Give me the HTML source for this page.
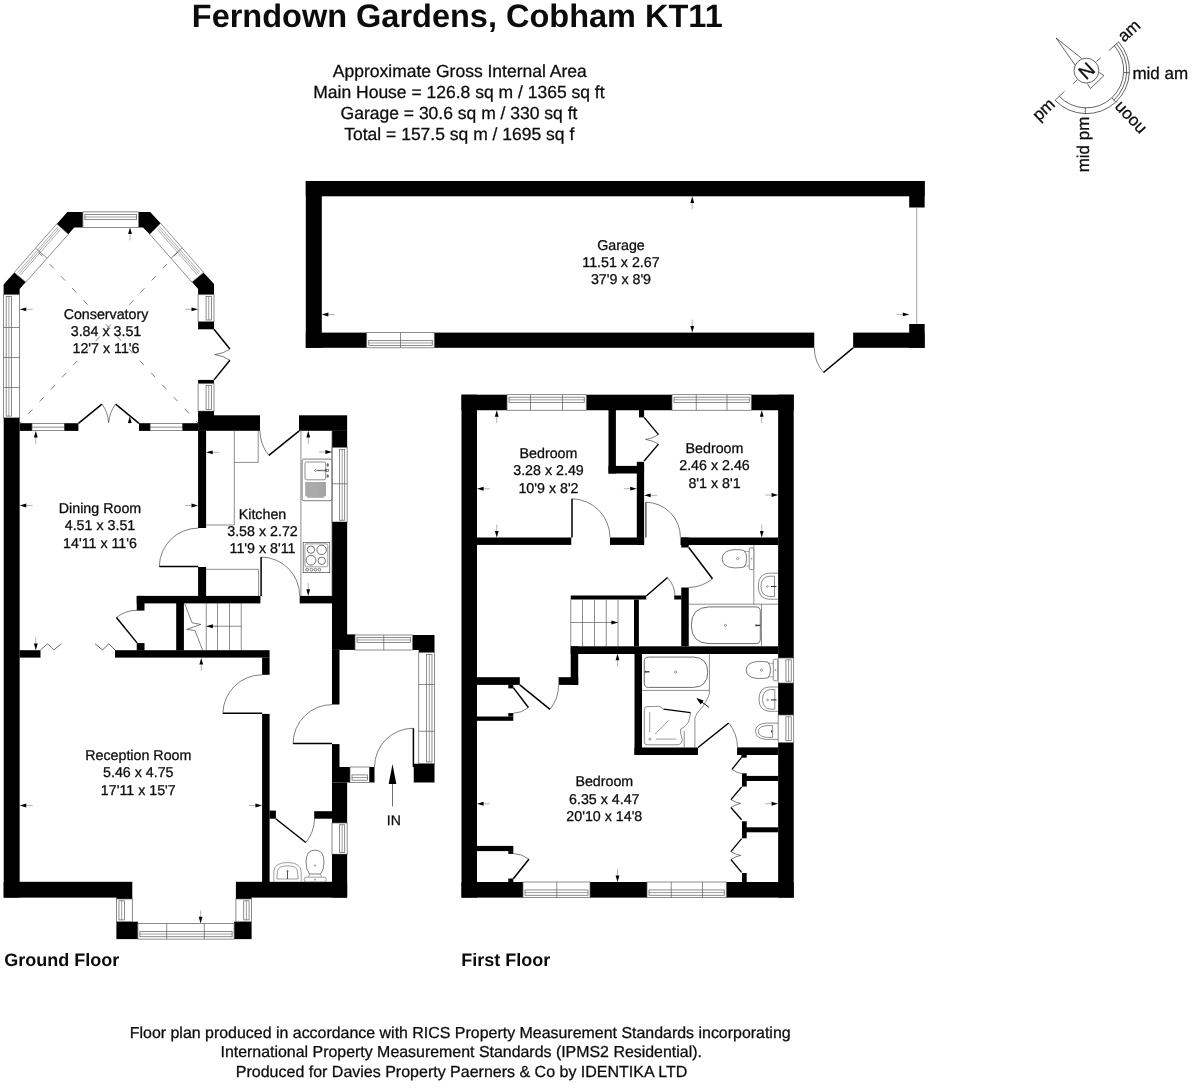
<!DOCTYPE html>
<html>
<head>
<meta charset="utf-8">
<title>Ferndown Gardens, Cobham KT11 - Floor plan</title>
<style>
html,body{margin:0;padding:0;background:#fff;}
body{width:1192px;height:1088px;overflow:hidden;font-family:"Liberation Sans",sans-serif;}
svg{display:block;will-change:transform;filter:grayscale(1);}
svg text{font-family:"Liberation Sans",sans-serif;fill:#0c0c0c;text-rendering:geometricPrecision;}
svg text.r{stroke:#0c0c0c;stroke-width:0.28px;}
</style>
</head>
<body>
<svg width="1192" height="1088" viewBox="0 0 1192 1088">
<rect x="0" y="0" width="1192" height="1088" fill="#fff"/>
<text x="191.8" y="27" font-size="32.5" text-anchor="start" font-weight="bold">Ferndown Gardens, Cobham KT11</text>
<text class="r" x="459.8" y="76.6" font-size="17.5" text-anchor="middle" font-weight="normal">Approximate Gross Internal Area</text>
<text class="r" x="458.9" y="97.8" font-size="17.5" text-anchor="middle" font-weight="normal">Main House = 126.8 sq m / 1365 sq ft</text>
<text class="r" x="459" y="119" font-size="17.5" text-anchor="middle" font-weight="normal">Garage = 30.6 sq m / 330 sq ft</text>
<text class="r" x="459.3" y="140" font-size="17.5" text-anchor="middle" font-weight="normal">Total = 157.5 sq m / 1695 sq f</text>
<text x="4.2" y="965.8" font-size="18" text-anchor="start" font-weight="bold">Ground Floor</text>
<text x="461.35" y="965.8" font-size="18" text-anchor="start" font-weight="bold">First Floor</text>
<text class="r" x="460.2" y="1038.3" font-size="15.95" text-anchor="middle" font-weight="normal">Floor plan produced in accordance with RICS Property Measurement Standards incorporating</text>
<text class="r" x="461.2" y="1057.4" font-size="15.93" text-anchor="middle" font-weight="normal">International Property Measurement Standards (IPMS2 Residential).</text>
<text class="r" x="461.5" y="1077.4" font-size="16" text-anchor="middle" font-weight="normal">Produced for Davies Property Paerners &amp; Co by IDENTIKA LTD</text>
<rect x="305.8" y="181" width="618.85" height="15.3" fill="#000"/>
<rect x="305.8" y="181" width="16" height="166.8" fill="#000"/>
<rect x="305.8" y="332.6" width="60.95" height="15.2" fill="#000"/>
<rect x="434.25" y="332.6" width="380" height="15.2" fill="#000"/>
<rect x="853.15" y="332.6" width="71.5" height="15.2" fill="#000"/>
<rect x="909.2" y="181" width="15.45" height="26.5" fill="#000"/>
<rect x="909.2" y="324" width="15.45" height="23.8" fill="#000"/>
<line x1="916.7" y1="207.5" x2="916.7" y2="324" stroke="#777" stroke-width="0.7"/>
<rect x="366.75" y="332.6" width="67.5" height="15.2" fill="#fff" stroke="#5c5c5c" stroke-width="0.7"/>
<rect x="368.75" y="340.35" width="63.5" height="5.17" fill="none" stroke="#5c5c5c" stroke-width="0.7"/>
<line x1="368.75" y1="342.94" x2="432.25" y2="342.94" stroke="#5c5c5c" stroke-width="0.6"/>
<line x1="400.5" y1="332.6" x2="400.5" y2="347.8" stroke="#5c5c5c" stroke-width="0.7"/>
<path d="M823.5 372.5 A38.55 38.55 0 0 1 814.25 347.8" fill="none" stroke="#2a2a2a" stroke-width="0.6"/>
<line x1="853.1" y1="347.8" x2="823.5" y2="372.5" stroke="#000" stroke-width="1.5"/>
<line x1="328.4" y1="314.5" x2="334.8" y2="314.5" stroke="#777" stroke-width="0.55"/>
<polygon points="321.8,314.5 328.4,312.6 328.4,316.4" fill="#000"/>
<line x1="902.8" y1="314.4" x2="896.4" y2="314.4" stroke="#777" stroke-width="0.55"/>
<polygon points="909.4,314.4 902.8,316.3 902.8,312.5" fill="#000"/>
<line x1="692.25" y1="202.9" x2="692.25" y2="209.3" stroke="#777" stroke-width="0.55"/>
<polygon points="692.25,196.3 694.15,202.9 690.35,202.9" fill="#000"/>
<line x1="692.25" y1="326" x2="692.25" y2="319.6" stroke="#777" stroke-width="0.55"/>
<polygon points="692.25,332.6 690.35,326 694.15,326" fill="#000"/>
<text class="r" x="621" y="249.5" font-size="14.25" text-anchor="middle" font-weight="normal">Garage</text>
<text class="r" x="621" y="266.8" font-size="14.25" text-anchor="middle" font-weight="normal">11.51 x 2.67</text>
<text class="r" x="621" y="284.1" font-size="14.25" text-anchor="middle" font-weight="normal">37'9 x 8'9</text>
<g transform="translate(1086.4 70.6)">
<path d="M32.18 -28.67 A43.1 43.1 0 0 1 -31.26 29.67" fill="none" stroke="#222" stroke-width="0.7"/>
<path d="M27.92 -24.88 A37.4 37.4 0 0 1 -27.13 25.74" fill="none" stroke="#222" stroke-width="0.7"/>
<path d="M30.09 -26.81 A40.3 40.3 0 0 1 27.48 29.47" fill="none" stroke="#222" stroke-width="0.7"/>
<line x1="22.4" y1="-19.96" x2="32.4" y2="-28.87" stroke="#222" stroke-width="0.7"/>
<line x1="-21.76" y1="20.65" x2="-31.48" y2="29.87" stroke="#222" stroke-width="0.7"/>
<line x1="25.51" y1="27.35" x2="29.6" y2="31.74" stroke="#222" stroke-width="0.7"/>
<line x1="37.35" y1="1.96" x2="43.34" y2="2.27" stroke="#222" stroke-width="0.7"/>
<line x1="-1.03" y1="36.99" x2="-1.21" y2="43.38" stroke="#222" stroke-width="0.7"/>
<circle cx="0" cy="0" r="12.4" fill="none" stroke="#222" stroke-width="0.7"/>
<path d="M-4.6 -12.1 L-30.3 -32.6 L-11 -5.05" fill="none" stroke="#222" stroke-width="0.7"/>
<line x1="10.1" y1="-9.2" x2="14.2" y2="-12.7" stroke="#222" stroke-width="0.7"/>
<line x1="-9.2" y1="9.2" x2="-13.3" y2="13.1" stroke="#222" stroke-width="0.7"/>
<path d="M12.9 1.8 L17.5 5.05 L4.1 17.9 L0.9 12.9" fill="none" stroke="#222" stroke-width="0.7"/>
<text transform="rotate(-43)" x="0" y="6.8" font-size="19.5" text-anchor="middle" stroke="#111" stroke-width="0.35">N</text>
<text class="r" transform="rotate(-42)" x="46.5" y="4.4" font-size="17" text-anchor="start">am</text>
<text class="r" transform="rotate(-43.5)" x="-46" y="4.4" font-size="17" text-anchor="end">pm</text>
<text class="r" transform="rotate(227)" x="-45.5" y="4.4" font-size="17" text-anchor="end">noon</text>
<text class="r" transform="rotate(-90)" x="-46" y="2.1" font-size="17" text-anchor="end">mid pm</text>
<text class="r" x="46" y="7.9" font-size="17" text-anchor="start">mid am</text>
</g>
<polygon points="67.4,211.9 82.9,211.9 82.9,227.4 74.3,227.4 68.3,234.3 56.8,223.9" fill="#000"/>
<polygon points="138.6,211.9 150.2,211.9 160.6,223.2 149.8,234.3 143,227.4 138.6,227.4" fill="#000"/>
<polygon points="14.3,272.4 25.8,282.1 19.65,289 19.65,294.7 3.6,294.7 3.6,284.4" fill="#000"/>
<polygon points="203.5,272.4 214,283.9 214,294.7 198.1,294.7 198.1,289 192,282.1" fill="#000"/>
<rect x="82.9" y="211.9" width="55.7" height="15.5" fill="#fff" stroke="#5c5c5c" stroke-width="0.7"/>
<rect x="84.9" y="214.38" width="51.7" height="5.27" fill="none" stroke="#5c5c5c" stroke-width="0.7"/>
<line x1="84.9" y1="217.01" x2="136.6" y2="217.01" stroke="#5c5c5c" stroke-width="0.6"/>
<polygon points="56.8,223.9 68.3,234.3 25.8,282.1 14.3,272.4" fill="#fff" stroke="#5c5c5c" stroke-width="0.7"/>
<line x1="57.59" y1="227.22" x2="17.64" y2="272.69" stroke="#5c5c5c" stroke-width="0.5"/>
<line x1="58.98" y1="228.47" x2="19.02" y2="273.86" stroke="#5c5c5c" stroke-width="0.5"/>
<line x1="60.35" y1="229.71" x2="20.41" y2="275.03" stroke="#5c5c5c" stroke-width="0.5"/>
<line x1="35.55" y1="248.15" x2="47.05" y2="258.2" stroke="#5c5c5c" stroke-width="0.7"/>
<polygon points="160.6,223.2 149.8,234.3 192,282.1 203.5,272.4" fill="#fff" stroke="#5c5c5c" stroke-width="0.7"/>
<line x1="159.94" y1="226.67" x2="200.15" y2="272.68" stroke="#5c5c5c" stroke-width="0.5"/>
<line x1="158.64" y1="227.99" x2="198.77" y2="273.85" stroke="#5c5c5c" stroke-width="0.5"/>
<line x1="157.34" y1="229.32" x2="197.39" y2="275.02" stroke="#5c5c5c" stroke-width="0.5"/>
<line x1="182.05" y1="247.8" x2="170.9" y2="258.2" stroke="#5c5c5c" stroke-width="0.7"/>
<rect x="3.6" y="294.7" width="16.05" height="123.2" fill="#fff" stroke="#5c5c5c" stroke-width="0.7"/>
<rect x="6.17" y="296.5" width="5.46" height="119.6" fill="none" stroke="#5c5c5c" stroke-width="0.7"/>
<line x1="8.9" y1="296.5" x2="8.9" y2="416.1" stroke="#5c5c5c" stroke-width="0.6"/>
<line x1="3.6" y1="327.5" x2="19.65" y2="327.5" stroke="#5c5c5c" stroke-width="0.7"/>
<line x1="3.6" y1="357.5" x2="19.65" y2="357.5" stroke="#5c5c5c" stroke-width="0.7"/>
<line x1="3.6" y1="387.5" x2="19.65" y2="387.5" stroke="#5c5c5c" stroke-width="0.7"/>
<rect x="198.1" y="294.7" width="15.9" height="27.1" fill="#fff" stroke="#5c5c5c" stroke-width="0.7"/>
<rect x="206.05" y="296.5" width="5.41" height="23.5" fill="none" stroke="#5c5c5c" stroke-width="0.7"/>
<line x1="208.75" y1="296.5" x2="208.75" y2="320" stroke="#5c5c5c" stroke-width="0.6"/>
<rect x="198.1" y="321.8" width="15.9" height="7.5" fill="#000"/>
<rect x="198.1" y="379.9" width="15.9" height="3.8" fill="#000"/>
<rect x="198.1" y="383.7" width="15.9" height="27.45" fill="#fff" stroke="#5c5c5c" stroke-width="0.7"/>
<rect x="206.05" y="385.5" width="5.41" height="23.85" fill="none" stroke="#5c5c5c" stroke-width="0.7"/>
<line x1="208.75" y1="385.5" x2="208.75" y2="409.35" stroke="#5c5c5c" stroke-width="0.6"/>
<line x1="214" y1="329.3" x2="229.9" y2="349" stroke="#000" stroke-width="1.5"/>
<line x1="214" y1="379.9" x2="229.9" y2="360.3" stroke="#000" stroke-width="1.5"/>
<path d="M229.9 349 Q224 353.6 214.8 354.6 M229.9 360.3 Q224 355.8 214.8 354.6" fill="none" stroke="#2a2a2a" stroke-width="0.6"/>
<rect x="19.65" y="423.2" width="12.35" height="7.7" fill="#000"/>
<rect x="32" y="423.4" width="32.5" height="7.2" fill="#fff" stroke="#5c5c5c" stroke-width="0.7"/>
<line x1="32" y1="427.2" x2="64.5" y2="427.2" stroke="#5c5c5c" stroke-width="0.7"/>
<rect x="64.5" y="423.2" width="13.9" height="7.7" fill="#000"/>
<rect x="139" y="423.2" width="11.2" height="7.7" fill="#000"/>
<rect x="150.2" y="423.4" width="32.4" height="7.2" fill="#fff" stroke="#5c5c5c" stroke-width="0.7"/>
<line x1="150.2" y1="427.2" x2="182.6" y2="427.2" stroke="#5c5c5c" stroke-width="0.7"/>
<rect x="182.6" y="423.2" width="15.5" height="7.7" fill="#000"/>
<line x1="78.4" y1="423.4" x2="102" y2="404.1" stroke="#000" stroke-width="1.5"/>
<line x1="139" y1="423.4" x2="115.6" y2="404.1" stroke="#000" stroke-width="1.5"/>
<path d="M102 404.1 Q107.8 412 108.6 422.5 M115.6 404.1 Q109.6 412 108.6 422.5" fill="none" stroke="#2a2a2a" stroke-width="0.6"/>
<line x1="181.5" y1="248.2" x2="19.65" y2="423.2" stroke="#3a3a3a" stroke-width="0.65" stroke-dasharray="6 10.5" stroke-dashoffset="-5"/>
<line x1="35.1" y1="248.4" x2="198.1" y2="423.2" stroke="#3a3a3a" stroke-width="0.65" stroke-dasharray="6 10.5" stroke-dashoffset="-5"/>
<text class="r" x="106" y="318.8" font-size="14.25" text-anchor="middle" font-weight="normal">Conservatory</text>
<text class="r" x="106" y="336.1" font-size="14.25" text-anchor="middle" font-weight="normal">3.84 x 3.51</text>
<text class="r" x="106" y="353.4" font-size="14.25" text-anchor="middle" font-weight="normal">12'7 x 11'6</text>
<line x1="26.25" y1="309.3" x2="32.65" y2="309.3" stroke="#777" stroke-width="0.55"/>
<polygon points="19.65,309.3 26.25,307.4 26.25,311.2" fill="#000"/>
<line x1="191.5" y1="309.3" x2="185.1" y2="309.3" stroke="#777" stroke-width="0.55"/>
<polygon points="198.1,309.3 191.5,311.2 191.5,307.4" fill="#000"/>
<line x1="130" y1="234" x2="130" y2="240.4" stroke="#777" stroke-width="0.55"/>
<polygon points="130,227.4 131.9,234 128.1,234" fill="#000"/>
<line x1="129.8" y1="423.1" x2="129.8" y2="424" stroke="#777" stroke-width="0.55"/>
<polygon points="129.8,416.5 131.7,423.1 127.9,423.1" fill="#000"/>
<rect x="3.7" y="417.9" width="15.95" height="479.7" fill="#000"/>
<rect x="3.7" y="881.8" width="128.6" height="15.8" fill="#000"/>
<rect x="235.9" y="881.8" width="111.25" height="15.8" fill="#000"/>
<rect x="116.4" y="921.7" width="21.5" height="17.4" fill="#000"/>
<rect x="234.1" y="921.7" width="17.5" height="17.4" fill="#000"/>
<rect x="116.4" y="897" width="15.9" height="2" fill="#000"/>
<rect x="235.9" y="897" width="15.7" height="2" fill="#000"/>
<rect x="116.4" y="899" width="15.9" height="22.7" fill="#fff" stroke="#5c5c5c" stroke-width="0.7"/>
<rect x="118.94" y="900.8" width="5.41" height="19.1" fill="none" stroke="#5c5c5c" stroke-width="0.7"/>
<line x1="121.65" y1="900.8" x2="121.65" y2="919.9" stroke="#5c5c5c" stroke-width="0.6"/>
<rect x="235.9" y="899" width="15.7" height="22.7" fill="#fff" stroke="#5c5c5c" stroke-width="0.7"/>
<rect x="243.75" y="900.8" width="5.34" height="19.1" fill="none" stroke="#5c5c5c" stroke-width="0.7"/>
<line x1="246.42" y1="900.8" x2="246.42" y2="919.9" stroke="#5c5c5c" stroke-width="0.6"/>
<rect x="137.9" y="923.4" width="96.2" height="15.7" fill="#fff" stroke="#5c5c5c" stroke-width="0.7"/>
<rect x="139.9" y="931.41" width="92.2" height="5.34" fill="none" stroke="#5c5c5c" stroke-width="0.7"/>
<line x1="139.9" y1="934.08" x2="232.1" y2="934.08" stroke="#5c5c5c" stroke-width="0.6"/>
<line x1="166.7" y1="923.4" x2="166.7" y2="939.1" stroke="#5c5c5c" stroke-width="0.7"/>
<line x1="204.3" y1="923.4" x2="204.3" y2="939.1" stroke="#5c5c5c" stroke-width="0.7"/>
<line x1="200.6" y1="916.8" x2="200.6" y2="910.4" stroke="#777" stroke-width="0.55"/>
<polygon points="200.6,923.4 198.7,916.8 202.5,916.8" fill="#000"/>
<rect x="198.1" y="411.15" width="15.9" height="4.85" fill="#000"/>
<rect x="198.1" y="415.3" width="61.9" height="15.5" fill="#000"/>
<rect x="198.1" y="430.5" width="8" height="97.5" fill="#000"/>
<rect x="198.1" y="567" width="8" height="29.25" fill="#000"/>
<path d="M159.3 566.4 A39 39 0 0 1 198.3 528.1" fill="none" stroke="#2a2a2a" stroke-width="0.6"/>
<line x1="198.3" y1="566.4" x2="159.3" y2="566.4" stroke="#000" stroke-width="1.5"/>
<rect x="299" y="415.3" width="48.15" height="15.5" fill="#000"/>
<rect x="332" y="430.5" width="15.15" height="17" fill="#000"/>
<rect x="332" y="447.5" width="15.15" height="74.5" fill="#fff" stroke="#5c5c5c" stroke-width="0.7"/>
<rect x="339.57" y="449.3" width="5.15" height="70.9" fill="none" stroke="#5c5c5c" stroke-width="0.7"/>
<line x1="342.15" y1="449.3" x2="342.15" y2="520.2" stroke="#5c5c5c" stroke-width="0.6"/>
<line x1="332" y1="483.75" x2="347.15" y2="483.75" stroke="#5c5c5c" stroke-width="0.7"/>
<rect x="332" y="522" width="15.15" height="113" fill="#000"/>
<rect x="332" y="634.4" width="23.3" height="15.5" fill="#000"/>
<rect x="332" y="650" width="7.5" height="54.5" fill="#000"/>
<rect x="332" y="744.1" width="7.5" height="22.9" fill="#000"/>
<rect x="332" y="767" width="18" height="15.5" fill="#000"/>
<rect x="332" y="782.5" width="15.15" height="40.5" fill="#000"/>
<rect x="332" y="823" width="15.15" height="31.2" fill="#fff" stroke="#5c5c5c" stroke-width="0.7"/>
<rect x="339.57" y="824.8" width="5.15" height="27.6" fill="none" stroke="#5c5c5c" stroke-width="0.7"/>
<line x1="342.15" y1="824.8" x2="342.15" y2="852.4" stroke="#5c5c5c" stroke-width="0.6"/>
<rect x="332" y="854.2" width="15.15" height="43.4" fill="#000"/>
<path d="M268.8 455.3 A38.98 38.98 0 0 1 260 430.9" fill="none" stroke="#2a2a2a" stroke-width="0.6"/>
<line x1="299.2" y1="430.9" x2="268.8" y2="455.3" stroke="#000" stroke-width="1.5"/>
<rect x="136.75" y="595.9" width="123.65" height="7.5" fill="#000"/>
<rect x="299.7" y="595.9" width="32.3" height="7.5" fill="#000"/>
<path d="M261.1 557 A38.9 38.9 0 0 1 299.7 595.9" fill="none" stroke="#2a2a2a" stroke-width="0.6"/>
<line x1="261.1" y1="595.9" x2="261.1" y2="557" stroke="#000" stroke-width="1.5"/>
<rect x="136.75" y="595.9" width="7.75" height="14.7" fill="#000"/>
<rect x="136.75" y="643.1" width="7.75" height="7.4" fill="#000"/>
<path d="M116.4 617.5 A32.77 32.77 0 0 1 137.1 610.3" fill="none" stroke="#2a2a2a" stroke-width="0.6"/>
<line x1="137.1" y1="642.9" x2="116.4" y2="617.5" stroke="#000" stroke-width="1.5"/>
<rect x="176.2" y="603" width="7.7" height="47.5" fill="#000"/>
<rect x="19.65" y="650.2" width="20.85" height="7.4" fill="#000"/>
<rect x="115" y="650.2" width="154.6" height="7.4" fill="#000"/>
<path d="M40.5 650 L47.5 643.75 L53.75 650 L61.25 643.75" fill="none" stroke="#2a2a2a" stroke-width="0.7"/>
<path d="M95 643.75 L102.5 650 L108.75 643.75 L115 650" fill="none" stroke="#2a2a2a" stroke-width="0.7"/>
<rect x="262.1" y="657.5" width="7.5" height="17.3" fill="#000"/>
<rect x="262.1" y="713.9" width="7.5" height="168.1" fill="#000"/>
<path d="M222.9 713.3 A39.2 39.2 0 0 1 262.1 674.8" fill="none" stroke="#2a2a2a" stroke-width="0.6"/>
<line x1="262.1" y1="713.3" x2="222.9" y2="713.3" stroke="#000" stroke-width="1.5"/>
<path d="M293.1 743.5 A39 39 0 0 1 332.1 704.6" fill="none" stroke="#2a2a2a" stroke-width="0.6"/>
<line x1="332.1" y1="743.5" x2="293.1" y2="743.5" stroke="#000" stroke-width="1.5"/>
<rect x="269.5" y="810.6" width="6.4" height="8.1" fill="#000"/>
<rect x="314.2" y="811.2" width="17.8" height="7.5" fill="#000"/>
<path d="M305.75 842.5 A38.26 38.26 0 0 0 314.5 818.75" fill="none" stroke="#2a2a2a" stroke-width="0.6"/>
<line x1="275.75" y1="818.75" x2="305.75" y2="842.5" stroke="#000" stroke-width="1.5"/>
<polygon points="412.5,635 434.5,635 434.5,652.5 418.75,652.5 418.75,650 412.5,650" fill="#000"/>
<rect x="355" y="635" width="57.5" height="15" fill="#fff" stroke="#5c5c5c" stroke-width="0.7"/>
<rect x="357" y="637.4" width="53.5" height="5.1" fill="none" stroke="#5c5c5c" stroke-width="0.7"/>
<line x1="357" y1="639.95" x2="410.5" y2="639.95" stroke="#5c5c5c" stroke-width="0.6"/>
<line x1="383.75" y1="635" x2="383.75" y2="650" stroke="#5c5c5c" stroke-width="0.7"/>
<rect x="418.75" y="652.5" width="15.75" height="111.25" fill="#fff" stroke="#5c5c5c" stroke-width="0.7"/>
<rect x="426.62" y="654.3" width="5.36" height="107.65" fill="none" stroke="#5c5c5c" stroke-width="0.7"/>
<line x1="429.3" y1="654.3" x2="429.3" y2="761.95" stroke="#5c5c5c" stroke-width="0.6"/>
<line x1="418.75" y1="684.5" x2="434.5" y2="684.5" stroke="#5c5c5c" stroke-width="0.7"/>
<line x1="418.75" y1="731.25" x2="434.5" y2="731.25" stroke="#5c5c5c" stroke-width="0.7"/>
<rect x="413.75" y="763.75" width="20.75" height="18.75" fill="#000"/>
<rect x="350" y="767" width="19.5" height="15.5" fill="#fff" stroke="#5c5c5c" stroke-width="0.7"/>
<rect x="352" y="774.9" width="15.5" height="5.27" fill="none" stroke="#5c5c5c" stroke-width="0.7"/>
<line x1="352" y1="777.54" x2="367.5" y2="777.54" stroke="#5c5c5c" stroke-width="0.6"/>
<rect x="369.5" y="767" width="5" height="15.5" fill="#000"/>
<path d="M413.4 728.25 A38.75 38.75 0 0 0 374.5 767" fill="none" stroke="#2a2a2a" stroke-width="0.6"/>
<line x1="413.4" y1="767" x2="413.4" y2="728.25" stroke="#000" stroke-width="1.5"/>
<polygon points="392.5,764 396.3,784 388.7,784" fill="#000"/>
<line x1="392.5" y1="784" x2="392.5" y2="806.5" stroke="#333" stroke-width="0.7"/>
<text class="r" x="393.8" y="825" font-size="14" text-anchor="middle" font-weight="normal">IN</text>
<line x1="206.25" y1="603" x2="206.25" y2="650" stroke="#5c5c5c" stroke-width="0.7"/>
<line x1="217.5" y1="603" x2="217.5" y2="650" stroke="#5c5c5c" stroke-width="0.7"/>
<line x1="229.5" y1="603" x2="229.5" y2="650" stroke="#5c5c5c" stroke-width="0.7"/>
<line x1="241.25" y1="603" x2="241.25" y2="650" stroke="#5c5c5c" stroke-width="0.7"/>
<line x1="206.25" y1="626.25" x2="241.25" y2="626.25" stroke="#5c5c5c" stroke-width="0.7"/>
<line x1="212.85" y1="626.25" x2="218.25" y2="626.25" stroke="#777" stroke-width="0.55"/>
<polygon points="206.25,626.25 212.85,624.35 212.85,628.15" fill="#000"/>
<path d="M184.7 603.8 L192.1 622.8 L200.8 624.4 L186.6 629.4 L195 630.5 L202.5 650" fill="none" stroke="#2a2a2a" stroke-width="0.6"/>
<line x1="201.25" y1="664.6" x2="201.25" y2="671" stroke="#777" stroke-width="0.55"/>
<polygon points="201.25,658 203.15,664.6 199.35,664.6" fill="#000"/>
<line x1="234.3" y1="430.5" x2="234.3" y2="525" stroke="#5c5c5c" stroke-width="0.7"/>
<line x1="206.1" y1="525" x2="234.3" y2="525" stroke="#5c5c5c" stroke-width="0.7"/>
<path d="M258.2 430.8 L258.2 462.4 L234.3 462.4" fill="none" stroke="#5c5c5c" stroke-width="0.7"/>
<path d="M206.1 569.3 L258.6 569.3 L258.6 596" fill="none" stroke="#5c5c5c" stroke-width="0.7"/>
<line x1="300.9" y1="430.5" x2="300.9" y2="596.25" stroke="#5c5c5c" stroke-width="0.7"/>
<line x1="332" y1="430.5" x2="332" y2="596.25" stroke="#5c5c5c" stroke-width="0.7"/>
<rect x="302.1" y="459.1" width="29.7" height="41.6" rx="1.8" fill="#fff" stroke="#5c5c5c" stroke-width="0.8"/>
<rect x="305" y="462" width="20.7" height="17.8" rx="1.6" fill="none" stroke="#5c5c5c" stroke-width="0.7"/>
<line x1="305.8" y1="482" x2="305.8" y2="496.3" stroke="#555" stroke-width="0.6"/>
<line x1="306.83" y1="482" x2="306.83" y2="496.3" stroke="#555" stroke-width="0.6"/>
<line x1="307.86" y1="482" x2="307.86" y2="497.8" stroke="#555" stroke-width="0.6"/>
<line x1="308.89" y1="482" x2="308.89" y2="497.8" stroke="#555" stroke-width="0.6"/>
<line x1="309.92" y1="482" x2="309.92" y2="497.8" stroke="#555" stroke-width="0.6"/>
<line x1="310.95" y1="482" x2="310.95" y2="497.8" stroke="#555" stroke-width="0.6"/>
<line x1="311.98" y1="482" x2="311.98" y2="497.8" stroke="#555" stroke-width="0.6"/>
<line x1="313.01" y1="482" x2="313.01" y2="497.8" stroke="#555" stroke-width="0.6"/>
<line x1="314.04" y1="482" x2="314.04" y2="497.8" stroke="#555" stroke-width="0.6"/>
<line x1="315.07" y1="482" x2="315.07" y2="497.8" stroke="#555" stroke-width="0.6"/>
<line x1="316.1" y1="482" x2="316.1" y2="497.8" stroke="#555" stroke-width="0.6"/>
<line x1="317.13" y1="482" x2="317.13" y2="497.8" stroke="#555" stroke-width="0.6"/>
<line x1="318.16" y1="482" x2="318.16" y2="497.8" stroke="#555" stroke-width="0.6"/>
<line x1="319.19" y1="482" x2="319.19" y2="497.8" stroke="#555" stroke-width="0.6"/>
<line x1="320.22" y1="482" x2="320.22" y2="497.8" stroke="#555" stroke-width="0.6"/>
<line x1="321.25" y1="482" x2="321.25" y2="497.8" stroke="#555" stroke-width="0.6"/>
<line x1="322.28" y1="482" x2="322.28" y2="497.8" stroke="#555" stroke-width="0.6"/>
<line x1="323.31" y1="482" x2="323.31" y2="497.8" stroke="#555" stroke-width="0.6"/>
<line x1="324.34" y1="482" x2="324.34" y2="496.3" stroke="#555" stroke-width="0.6"/>
<line x1="325.37" y1="482" x2="325.37" y2="496.3" stroke="#555" stroke-width="0.6"/>
<path d="M314.3 470.5 L315.5 469.3 L316.7 470.5 L315.5 471.7 Z" fill="none" stroke="#333" stroke-width="0.6"/>
<line x1="317" y1="470.5" x2="327" y2="470.5" stroke="#777" stroke-width="1.4"/>
<rect x="325.7" y="469.3" width="2.7" height="2.4" fill="none" stroke="#333" stroke-width="0.6"/>
<ellipse cx="327.7" cy="464.9" rx="0.9" ry="1.5" fill="#777" stroke="#444" stroke-width="0.4"/>
<ellipse cx="327.7" cy="476.1" rx="0.9" ry="1.5" fill="#777" stroke="#444" stroke-width="0.4"/>
<rect x="303.2" y="542.4" width="26.5" height="30.2" fill="#fff" stroke="#5c5c5c" stroke-width="0.8"/>
<rect x="304.9" y="543.9" width="22.9" height="22.9" rx="1.6" fill="none" stroke="#5c5c5c" stroke-width="0.6"/>
<circle cx="310.9" cy="549.7" r="3.7" fill="none" stroke="#333" stroke-width="0.7"/>
<circle cx="321.6" cy="549.9" r="4.7" fill="none" stroke="#333" stroke-width="0.7"/>
<circle cx="311" cy="560.2" r="4.9" fill="none" stroke="#333" stroke-width="0.7"/>
<circle cx="321.8" cy="560.8" r="3.7" fill="none" stroke="#333" stroke-width="0.7"/>
<circle cx="307.2" cy="569.7" r="1.4" fill="none" stroke="#333" stroke-width="0.6"/>
<circle cx="311.4" cy="569.7" r="1.4" fill="none" stroke="#333" stroke-width="0.6"/>
<circle cx="315.4" cy="569.7" r="1.4" fill="none" stroke="#333" stroke-width="0.6"/>
<circle cx="319.4" cy="569.7" r="1.4" fill="none" stroke="#333" stroke-width="0.6"/>
<path d="M306 862 Q306 850.1 315 850.1 Q324 850.1 324 862 Q324 870 320.5 874 L309.5 874 Q306 870 306 862 Z" fill="none" stroke="#5c5c5c" stroke-width="0.8"/>
<path d="M309.5 874 L308.5 877.2 M320.5 874 L321.5 877.2" fill="none" stroke="#5c5c5c" stroke-width="0.5"/>
<rect x="304.2" y="877.2" width="22" height="4.6" rx="2" fill="#fff" stroke="#5c5c5c" stroke-width="0.6"/>
<circle cx="315" cy="865.5" r="0.8" fill="none" stroke="#5c5c5c" stroke-width="0.5"/>
<circle cx="315" cy="879.5" r="0.7" fill="none" stroke="#5c5c5c" stroke-width="0.5"/>
<path d="M273.8 881.5 L273.8 872 Q274 862.5 287.5 862.5 Q301 862.5 301.2 872 L301.2 881.5" fill="none" stroke="#5c5c5c" stroke-width="0.6"/>
<path d="M276.8 879 L277.5 871 Q278.5 865.8 287.5 865.8 Q296.5 865.8 297.5 871 L298.2 879 Z" fill="none" stroke="#5c5c5c" stroke-width="0.6"/>
<path d="M287.5 870.5 L287.5 879" fill="none" stroke="#222" stroke-width="0.8"/>
<circle cx="287.5" cy="871.2" r="0.8" fill="none" stroke="#5c5c5c" stroke-width="0.5"/>
<text class="r" x="100" y="513" font-size="14.25" text-anchor="middle" font-weight="normal">Dining Room</text>
<text class="r" x="100" y="530.3" font-size="14.25" text-anchor="middle" font-weight="normal">4.51 x 3.51</text>
<text class="r" x="100" y="547.6" font-size="14.25" text-anchor="middle" font-weight="normal">14'11 x 11'6</text>
<text class="r" x="262.5" y="518.5" font-size="14.25" text-anchor="middle" font-weight="normal">Kitchen</text>
<text class="r" x="262.5" y="535.8" font-size="14.25" text-anchor="middle" font-weight="normal">3.58 x 2.72</text>
<text class="r" x="262.5" y="553.1" font-size="14.25" text-anchor="middle" font-weight="normal">11'9 x 8'11</text>
<text class="r" x="138.3" y="760" font-size="14.25" text-anchor="middle" font-weight="normal">Reception Room</text>
<text class="r" x="138.3" y="777.3" font-size="14.25" text-anchor="middle" font-weight="normal">5.46 x 4.75</text>
<text class="r" x="138.3" y="794.6" font-size="14.25" text-anchor="middle" font-weight="normal">17'11 x 15'7</text>
<line x1="26.25" y1="505.5" x2="32.65" y2="505.5" stroke="#777" stroke-width="0.55"/>
<polygon points="19.65,505.5 26.25,503.6 26.25,507.4" fill="#000"/>
<line x1="191.5" y1="505.5" x2="185.1" y2="505.5" stroke="#777" stroke-width="0.55"/>
<polygon points="198.1,505.5 191.5,507.4 191.5,503.6" fill="#000"/>
<line x1="35.8" y1="437.4" x2="35.8" y2="443.8" stroke="#777" stroke-width="0.55"/>
<polygon points="35.8,430.8 37.7,437.4 33.9,437.4" fill="#000"/>
<line x1="35.8" y1="643.6" x2="35.8" y2="637.2" stroke="#777" stroke-width="0.55"/>
<polygon points="35.8,650.2 33.9,643.6 37.7,643.6" fill="#000"/>
<line x1="212.7" y1="452.3" x2="219.1" y2="452.3" stroke="#777" stroke-width="0.55"/>
<polygon points="206.1,452.3 212.7,450.4 212.7,454.2" fill="#000"/>
<line x1="325.4" y1="452" x2="319" y2="452" stroke="#777" stroke-width="0.55"/>
<polygon points="332,452 325.4,453.9 325.4,450.1" fill="#000"/>
<line x1="308.25" y1="437.4" x2="308.25" y2="443.8" stroke="#777" stroke-width="0.55"/>
<polygon points="308.25,430.8 310.15,437.4 306.35,437.4" fill="#000"/>
<line x1="308.25" y1="589.3" x2="308.25" y2="582.9" stroke="#777" stroke-width="0.55"/>
<polygon points="308.25,595.9 306.35,589.3 310.15,589.3" fill="#000"/>
<line x1="26.25" y1="805.5" x2="32.65" y2="805.5" stroke="#777" stroke-width="0.55"/>
<polygon points="19.65,805.5 26.25,803.6 26.25,807.4" fill="#000"/>
<line x1="255.4" y1="805.5" x2="249" y2="805.5" stroke="#777" stroke-width="0.55"/>
<polygon points="262,805.5 255.4,807.4 255.4,803.6" fill="#000"/>
<rect x="461.5" y="394.7" width="15.5" height="502.9" fill="#000"/>
<rect x="778.15" y="394.7" width="15.55" height="263.3" fill="#000"/>
<rect x="778.15" y="683" width="15.55" height="32" fill="#000"/>
<rect x="778.15" y="742.5" width="15.55" height="155.1" fill="#000"/>
<rect x="461.5" y="394.7" width="45.5" height="15.55" fill="#000"/>
<rect x="586.25" y="394.7" width="85.75" height="15.55" fill="#000"/>
<rect x="751.25" y="394.7" width="42.45" height="15.55" fill="#000"/>
<rect x="461.5" y="882" width="61.5" height="15.6" fill="#000"/>
<rect x="590" y="882" width="57" height="15.6" fill="#000"/>
<rect x="726.25" y="882" width="67.45" height="15.6" fill="#000"/>
<rect x="507" y="394.7" width="79.25" height="15.55" fill="#fff" stroke="#5c5c5c" stroke-width="0.7"/>
<rect x="509" y="397.19" width="75.25" height="5.29" fill="none" stroke="#5c5c5c" stroke-width="0.7"/>
<line x1="509" y1="399.83" x2="584.25" y2="399.83" stroke="#5c5c5c" stroke-width="0.6"/>
<line x1="530.5" y1="394.7" x2="530.5" y2="410.25" stroke="#5c5c5c" stroke-width="0.7"/>
<line x1="562.5" y1="394.7" x2="562.5" y2="410.25" stroke="#5c5c5c" stroke-width="0.7"/>
<rect x="672" y="394.7" width="79.25" height="15.55" fill="#fff" stroke="#5c5c5c" stroke-width="0.7"/>
<rect x="674" y="397.19" width="75.25" height="5.29" fill="none" stroke="#5c5c5c" stroke-width="0.7"/>
<line x1="674" y1="399.83" x2="749.25" y2="399.83" stroke="#5c5c5c" stroke-width="0.6"/>
<line x1="696.25" y1="394.7" x2="696.25" y2="410.25" stroke="#5c5c5c" stroke-width="0.7"/>
<line x1="727" y1="394.7" x2="727" y2="410.25" stroke="#5c5c5c" stroke-width="0.7"/>
<rect x="523" y="882" width="67" height="15.6" fill="#fff" stroke="#5c5c5c" stroke-width="0.7"/>
<rect x="525" y="889.96" width="63" height="5.3" fill="none" stroke="#5c5c5c" stroke-width="0.7"/>
<line x1="525" y1="892.61" x2="588" y2="892.61" stroke="#5c5c5c" stroke-width="0.6"/>
<line x1="556.8" y1="882" x2="556.8" y2="897.6" stroke="#5c5c5c" stroke-width="0.7"/>
<rect x="647" y="882" width="79.25" height="15.6" fill="#fff" stroke="#5c5c5c" stroke-width="0.7"/>
<rect x="649" y="889.96" width="75.25" height="5.3" fill="none" stroke="#5c5c5c" stroke-width="0.7"/>
<line x1="649" y1="892.61" x2="724.25" y2="892.61" stroke="#5c5c5c" stroke-width="0.6"/>
<line x1="671.25" y1="882" x2="671.25" y2="897.6" stroke="#5c5c5c" stroke-width="0.7"/>
<line x1="702.5" y1="882" x2="702.5" y2="897.6" stroke="#5c5c5c" stroke-width="0.7"/>
<rect x="778.15" y="658" width="15.55" height="25" fill="#fff" stroke="#5c5c5c" stroke-width="0.7"/>
<rect x="785.92" y="659.8" width="5.29" height="21.4" fill="none" stroke="#5c5c5c" stroke-width="0.7"/>
<line x1="788.57" y1="659.8" x2="788.57" y2="681.2" stroke="#5c5c5c" stroke-width="0.6"/>
<rect x="778.15" y="715" width="15.55" height="27.5" fill="#fff" stroke="#5c5c5c" stroke-width="0.7"/>
<rect x="785.92" y="716.8" width="5.29" height="23.9" fill="none" stroke="#5c5c5c" stroke-width="0.7"/>
<line x1="788.57" y1="716.8" x2="788.57" y2="740.7" stroke="#5c5c5c" stroke-width="0.6"/>
<rect x="608.5" y="410" width="7.4" height="63.5" fill="#000"/>
<rect x="608.5" y="465.9" width="35.6" height="7.6" fill="#000"/>
<rect x="636.8" y="461.8" width="7.3" height="83.1" fill="#000"/>
<rect x="639" y="410" width="5.1" height="7.4" fill="#000"/>
<line x1="644.1" y1="417.4" x2="658.5" y2="434.6" stroke="#000" stroke-width="1.4"/>
<line x1="644.1" y1="461" x2="658.5" y2="444.1" stroke="#000" stroke-width="1.4"/>
<path d="M658.5 434.6 Q652.5 438.6 645.6 439.4 M658.5 444.1 Q652.5 440.4 645.6 439.4" fill="none" stroke="#2a2a2a" stroke-width="0.6"/>
<rect x="477" y="537.5" width="94.25" height="7.4" fill="#000"/>
<rect x="610" y="537.5" width="34.1" height="7.4" fill="#000"/>
<path d="M572 498.75 A38.75 38.75 0 0 1 610 537.5" fill="none" stroke="#2a2a2a" stroke-width="0.6"/>
<line x1="572" y1="537.5" x2="572" y2="498.75" stroke="#000" stroke-width="1.5"/>
<path d="M645.9 502.2 A35 35 0 0 1 680.4 537.5" fill="none" stroke="#2a2a2a" stroke-width="0.6"/>
<line x1="645.9" y1="502.2" x2="645.9" y2="537.5" stroke="#111" stroke-width="1"/>
<rect x="680.5" y="537.5" width="97.5" height="7.5" fill="#000"/>
<rect x="681.25" y="537.5" width="7.5" height="10" fill="#000"/>
<rect x="681.25" y="587.5" width="7.5" height="58.75" fill="#000"/>
<path d="M712.5 578.75 A39.25 39.25 0 0 1 688.75 587.5" fill="none" stroke="#2a2a2a" stroke-width="0.6"/>
<line x1="688.75" y1="547.5" x2="712.5" y2="578.75" stroke="#000" stroke-width="1.5"/>
<rect x="570.75" y="595.5" width="75.5" height="4" fill="#000"/>
<rect x="674.25" y="595.5" width="7" height="4" fill="#000"/>
<rect x="634" y="599.5" width="4.9" height="46.8" fill="#000"/>
<path d="M667.5 577.5 A28.17 28.17 0 0 1 675 597.5" fill="none" stroke="#2a2a2a" stroke-width="0.6"/>
<line x1="646.25" y1="596" x2="667.5" y2="577.5" stroke="#000" stroke-width="1.5"/>
<line x1="570.75" y1="599.5" x2="570.75" y2="646.25" stroke="#5c5c5c" stroke-width="0.7"/>
<line x1="582.5" y1="599.5" x2="582.5" y2="646.25" stroke="#5c5c5c" stroke-width="0.7"/>
<line x1="594.5" y1="599.5" x2="594.5" y2="646.25" stroke="#5c5c5c" stroke-width="0.7"/>
<line x1="606.25" y1="599.5" x2="606.25" y2="646.25" stroke="#5c5c5c" stroke-width="0.7"/>
<line x1="618" y1="599.5" x2="618" y2="646.25" stroke="#5c5c5c" stroke-width="0.7"/>
<line x1="570.75" y1="622.5" x2="618" y2="622.5" stroke="#5c5c5c" stroke-width="0.7"/>
<line x1="611.4" y1="622.5" x2="610" y2="622.5" stroke="#777" stroke-width="0.55"/>
<polygon points="618,622.5 611.4,624.4 611.4,620.6" fill="#000"/>
<rect x="570.7" y="646.3" width="207.45" height="7.7" fill="#000"/>
<rect x="570.7" y="646.25" width="7.5" height="38.65" fill="#000"/>
<rect x="558.6" y="677.2" width="19.6" height="7.7" fill="#000"/>
<rect x="477" y="677.2" width="42.8" height="7.7" fill="#000"/>
<rect x="508.3" y="684.9" width="5" height="3.5" fill="#000"/>
<rect x="477" y="716.5" width="36.3" height="4.3" fill="#000"/>
<rect x="508.3" y="713.1" width="5" height="3.4" fill="#000"/>
<path d="M528.4 707.5 A24.98 24.98 0 0 1 513.3 713.3" fill="none" stroke="#2a2a2a" stroke-width="0.6"/>
<line x1="513.3" y1="687.6" x2="528.4" y2="707.5" stroke="#000" stroke-width="1.5"/>
<path d="M550 709.3 A38.83 38.83 0 0 0 558.6 684.9" fill="none" stroke="#2a2a2a" stroke-width="0.6"/>
<line x1="519.8" y1="684.9" x2="550" y2="709.3" stroke="#000" stroke-width="1.5"/>
<rect x="634.5" y="653.75" width="7.5" height="101.25" fill="#000"/>
<rect x="634.5" y="747.5" width="63.5" height="7.5" fill="#000"/>
<rect x="737.1" y="747.4" width="41.05" height="7.6" fill="#000"/>
<path d="M728.75 723 A39.32 39.32 0 0 1 737.5 747.5" fill="none" stroke="#2a2a2a" stroke-width="0.6"/>
<line x1="698" y1="747.5" x2="728.75" y2="723" stroke="#000" stroke-width="1.5"/>
<rect x="741.3" y="755" width="5.4" height="2.7" fill="#000"/>
<rect x="742" y="775.9" width="36.15" height="5.1" fill="#000"/>
<rect x="742" y="773.3" width="4.7" height="13.3" fill="#000"/>
<rect x="742" y="827.3" width="36.15" height="5" fill="#000"/>
<rect x="742" y="821.3" width="4.7" height="17" fill="#000"/>
<rect x="742" y="873" width="4.7" height="9.5" fill="#000"/>
<line x1="741.6" y1="757.3" x2="732" y2="769.4" stroke="#000" stroke-width="1.3"/>
<path d="M732 769.4 Q737 773 742 773.7" fill="none" stroke="#2a2a2a" stroke-width="0.6"/>
<line x1="741.6" y1="787" x2="730.9" y2="799.6" stroke="#000" stroke-width="1.3"/>
<line x1="741.6" y1="819.7" x2="730.9" y2="807.5" stroke="#000" stroke-width="1.3"/>
<path d="M730.9 799.6 Q736 802.8 740.7 803.4 M730.9 807.5 Q736 804.2 740.7 803.4" fill="none" stroke="#2a2a2a" stroke-width="0.6"/>
<line x1="741.6" y1="838.7" x2="730.9" y2="851.6" stroke="#000" stroke-width="1.3"/>
<line x1="741.6" y1="872.3" x2="730.9" y2="859.5" stroke="#000" stroke-width="1.3"/>
<path d="M730.9 851.6 Q736 854.8 740.7 855.4 M730.9 859.5 Q736 856.2 740.7 855.4" fill="none" stroke="#2a2a2a" stroke-width="0.6"/>
<rect x="477" y="845.9" width="36.3" height="5.2" fill="#000"/>
<rect x="508.3" y="851.1" width="5" height="2.8" fill="#000"/>
<rect x="508.3" y="878.5" width="5" height="4" fill="#000"/>
<path d="M528.9 859.2 A25.05 25.05 0 0 0 513.3 853.6" fill="none" stroke="#2a2a2a" stroke-width="0.6"/>
<line x1="513.3" y1="878.8" x2="528.9" y2="859.2" stroke="#000" stroke-width="1.5"/>
<line x1="753.8" y1="545" x2="753.8" y2="604.2" stroke="#5c5c5c" stroke-width="0.7"/>
<line x1="688.75" y1="604.2" x2="778" y2="604.2" stroke="#5c5c5c" stroke-width="0.7"/>
<line x1="761.5" y1="604.2" x2="761.5" y2="646.25" stroke="#5c5c5c" stroke-width="0.7"/>
<path d="M744 550.4 Q746.6 553 746.6 558.7 Q746.6 564.5 744 567 Q740 567.9 734.3 567.9 Q722.2 567 722.2 558.7 Q722.2 550.4 734.3 549.6 Q740 549.5 744 550.4 Z" fill="#fff" stroke="#5c5c5c" stroke-width="0.8"/>
<line x1="744" y1="551.5" x2="749.2" y2="551.5" stroke="#5c5c5c" stroke-width="0.5"/>
<line x1="744" y1="566" x2="749.2" y2="566" stroke="#5c5c5c" stroke-width="0.5"/>
<rect x="749.2" y="547.9" width="4.6" height="21.6" rx="1.2" fill="#fff" stroke="#5c5c5c" stroke-width="0.7"/>
<circle cx="737.6" cy="558.6" r="1.1" fill="none" stroke="#5c5c5c" stroke-width="0.6"/>
<circle cx="751.5" cy="558.7" r="0.6" fill="none" stroke="#5c5c5c" stroke-width="0.5"/>
<path d="M778 573.2 L768.5 573.2 Q758.3 574 758.3 586.2 Q758.3 598.4 768.5 599.2 L778 599.2" fill="none" stroke="#5c5c5c" stroke-width="0.7"/>
<path d="M774.5 576.2 L769.5 576.2 Q761 577 761 586.4 Q761 595.8 769.5 596.6 L774.5 596.6 Z" fill="none" stroke="#5c5c5c" stroke-width="0.7"/>
<path d="M771 586.5 L776.5 586.5" fill="none" stroke="#333" stroke-width="1.1"/>
<circle cx="767.4" cy="586.5" r="0.9" fill="none" stroke="#5c5c5c" stroke-width="0.6"/>
<path d="M709 606.9 L756 606.9 Q760.3 606.9 760.3 611.5 L760.3 639 Q760.3 643.6 756 643.6 L709 643.6 Q691.3 643 691.3 625.2 Q691.3 607.5 709 606.9 Z" fill="none" stroke="#5c5c5c" stroke-width="0.9"/>
<circle cx="725.4" cy="625.4" r="1.1" fill="none" stroke="#5c5c5c" stroke-width="0.6"/>
<line x1="755.8" y1="625.4" x2="760.3" y2="625.4" stroke="#333" stroke-width="1.3"/>
<circle cx="756" cy="625.4" r="1" fill="none" stroke="#5c5c5c" stroke-width="0.5"/>
<line x1="642" y1="690.4" x2="709.4" y2="690.4" stroke="#5c5c5c" stroke-width="0.7"/>
<path d="M709.4 653.75 L709.4 693.5 Q708.5 698 702 707.5 Q695.2 715 694.9 718.4 L694.9 747.5" fill="none" stroke="#5c5c5c" stroke-width="0.7"/>
<line x1="684.2" y1="731" x2="684.2" y2="747.5" stroke="#5c5c5c" stroke-width="0.7"/>
<path d="M648.5 657.1 L693.5 657.1 Q707.7 657.6 707.7 672.2 Q707.7 686.9 693.5 687.4 L648.5 687.4 Q644.3 687.4 644.3 683.2 L644.3 661.3 Q644.3 657.1 648.5 657.1 Z" fill="none" stroke="#5c5c5c" stroke-width="0.9"/>
<circle cx="675.6" cy="672.1" r="1.1" fill="none" stroke="#5c5c5c" stroke-width="0.6"/>
<line x1="644.6" y1="671.8" x2="649.5" y2="671.8" stroke="#333" stroke-width="1.3"/>
<circle cx="645.5" cy="671.8" r="1" fill="none" stroke="#5c5c5c" stroke-width="0.5"/>
<path d="M644.3 709.5 Q644.3 706.8 647 706.6 L658.5 706.3 Q661.5 707 663.5 709.2" fill="none" stroke="#5c5c5c" stroke-width="0.7"/>
<path d="M663.5 709.2 L690.6 712.7" fill="none" stroke="#000" stroke-width="1.3"/>
<path d="M690.6 712.7 Q689.5 719.5 688.5 722 Q686 727 680.8 729 Q680 733 681.5 736.5 Q683.5 742 680 744 Q679 744.8 676 744.8 L647 744.8 Q644.3 744.8 644.3 742 L644.3 709.5" fill="none" stroke="#5c5c5c" stroke-width="0.7"/>
<line x1="649.7" y1="712" x2="649.7" y2="732" stroke="#5c5c5c" stroke-width="0.6"/>
<line x1="655.7" y1="739.1" x2="676.3" y2="739.1" stroke="#5c5c5c" stroke-width="0.6"/>
<line x1="655" y1="734.1" x2="668.5" y2="720.6" stroke="#5c5c5c" stroke-width="0.6"/>
<circle cx="650" cy="739.1" r="1.1" fill="none" stroke="#5c5c5c" stroke-width="0.6"/>
<line x1="699.5" y1="700.3" x2="708.9" y2="707.3" stroke="#000" stroke-width="0.9"/>
<polygon points="696.3,698 703.6,700.4 700.7,704.5" fill="#000"/>
<path d="M768 662.2 Q770.5 665 770.5 670 Q770.5 675 768 677.8 Q764 678.6 758.4 678.6 Q746.2 677.8 746.2 670 Q746.2 662.2 758.4 661.4 Q764 661.3 768 662.2 Z" fill="#fff" stroke="#5c5c5c" stroke-width="0.8"/>
<line x1="768" y1="663.3" x2="773.3" y2="663.3" stroke="#5c5c5c" stroke-width="0.5"/>
<line x1="768" y1="676.8" x2="773.3" y2="676.8" stroke="#5c5c5c" stroke-width="0.5"/>
<rect x="773.3" y="659.3" width="4.4" height="21.4" rx="1.2" fill="#fff" stroke="#5c5c5c" stroke-width="0.7"/>
<circle cx="761.5" cy="670.2" r="1.1" fill="none" stroke="#5c5c5c" stroke-width="0.6"/>
<circle cx="775.5" cy="670" r="0.6" fill="none" stroke="#5c5c5c" stroke-width="0.5"/>
<path d="M778 687 L769 687 Q759 687.8 759 699.1 Q759 710.5 769 711.3 L778 711.3" fill="none" stroke="#5c5c5c" stroke-width="0.7"/>
<path d="M774.8 689.5 L770.5 689.5 Q762.6 690.3 762.6 699.3 Q762.6 708.4 770.5 709.2 L774.8 709.2 Z" fill="none" stroke="#5c5c5c" stroke-width="0.7"/>
<path d="M771 699.9 L776.5 699.9" fill="none" stroke="#333" stroke-width="1.1"/>
<circle cx="767.6" cy="699.9" r="0.9" fill="none" stroke="#5c5c5c" stroke-width="0.6"/>
<path d="M778 723.1 L766 723.1 Q755.5 724 755.5 731.2 Q755.5 738.5 766 739.4 L778 739.4" fill="none" stroke="#5c5c5c" stroke-width="0.7"/>
<path d="M772.6 725.6 L766.5 725.6 Q758.3 726.5 758.3 731.5 Q758.3 736.5 766.5 737.4 L772.6 737.4 Z" fill="none" stroke="#5c5c5c" stroke-width="0.7"/>
<line x1="771.6" y1="730.3" x2="771.6" y2="732.5" stroke="#333" stroke-width="1"/>
<text class="r" x="548.5" y="458" font-size="14.25" text-anchor="middle" font-weight="normal">Bedroom</text>
<text class="r" x="548.5" y="475.3" font-size="14.25" text-anchor="middle" font-weight="normal">3.28 x 2.49</text>
<text class="r" x="548.5" y="492.6" font-size="14.25" text-anchor="middle" font-weight="normal">10'9 x 8'2</text>
<text class="r" x="714.5" y="453" font-size="14.25" text-anchor="middle" font-weight="normal">Bedroom</text>
<text class="r" x="714.5" y="470.3" font-size="14.25" text-anchor="middle" font-weight="normal">2.46 x 2.46</text>
<text class="r" x="714.5" y="487.6" font-size="14.25" text-anchor="middle" font-weight="normal">8'1 x 8'1</text>
<text class="r" x="604.3" y="786.2" font-size="14.25" text-anchor="middle" font-weight="normal">Bedroom</text>
<text class="r" x="604.3" y="803.5" font-size="14.25" text-anchor="middle" font-weight="normal">6.35 x 4.47</text>
<text class="r" x="604.3" y="820.8" font-size="14.25" text-anchor="middle" font-weight="normal">20'10 x 14'8</text>
<line x1="496.75" y1="416.85" x2="496.75" y2="423.25" stroke="#777" stroke-width="0.55"/>
<polygon points="496.75,410.25 498.65,416.85 494.85,416.85" fill="#000"/>
<line x1="496.75" y1="530.9" x2="496.75" y2="524.5" stroke="#777" stroke-width="0.55"/>
<polygon points="496.75,537.5 494.85,530.9 498.65,530.9" fill="#000"/>
<line x1="483.6" y1="488.75" x2="490" y2="488.75" stroke="#777" stroke-width="0.55"/>
<polygon points="477,488.75 483.6,486.85 483.6,490.65" fill="#000"/>
<line x1="630.2" y1="488.7" x2="623.8" y2="488.7" stroke="#777" stroke-width="0.55"/>
<polygon points="636.8,488.7 630.2,490.6 630.2,486.8" fill="#000"/>
<line x1="650.7" y1="495.3" x2="657.1" y2="495.3" stroke="#777" stroke-width="0.55"/>
<polygon points="644.1,495.3 650.7,493.4 650.7,497.2" fill="#000"/>
<line x1="771.55" y1="495" x2="765.15" y2="495" stroke="#777" stroke-width="0.55"/>
<polygon points="778.15,495 771.55,496.9 771.55,493.1" fill="#000"/>
<line x1="761.75" y1="416.85" x2="761.75" y2="423.25" stroke="#777" stroke-width="0.55"/>
<polygon points="761.75,410.25 763.65,416.85 759.85,416.85" fill="#000"/>
<line x1="761.75" y1="530.9" x2="761.75" y2="524.5" stroke="#777" stroke-width="0.55"/>
<polygon points="761.75,537.5 759.85,530.9 763.65,530.9" fill="#000"/>
<line x1="483.6" y1="803.75" x2="490" y2="803.75" stroke="#777" stroke-width="0.55"/>
<polygon points="477,803.75 483.6,801.85 483.6,805.65" fill="#000"/>
<line x1="771.55" y1="803.75" x2="765.15" y2="803.75" stroke="#777" stroke-width="0.55"/>
<polygon points="778.15,803.75 771.55,805.65 771.55,801.85" fill="#000"/>
<line x1="617.5" y1="660.35" x2="617.5" y2="666.75" stroke="#777" stroke-width="0.55"/>
<polygon points="617.5,653.75 619.4,660.35 615.6,660.35" fill="#000"/>
<line x1="617.5" y1="875.4" x2="617.5" y2="869" stroke="#777" stroke-width="0.55"/>
<polygon points="617.5,882 615.6,875.4 619.4,875.4" fill="#000"/>
</svg>
</body>
</html>
